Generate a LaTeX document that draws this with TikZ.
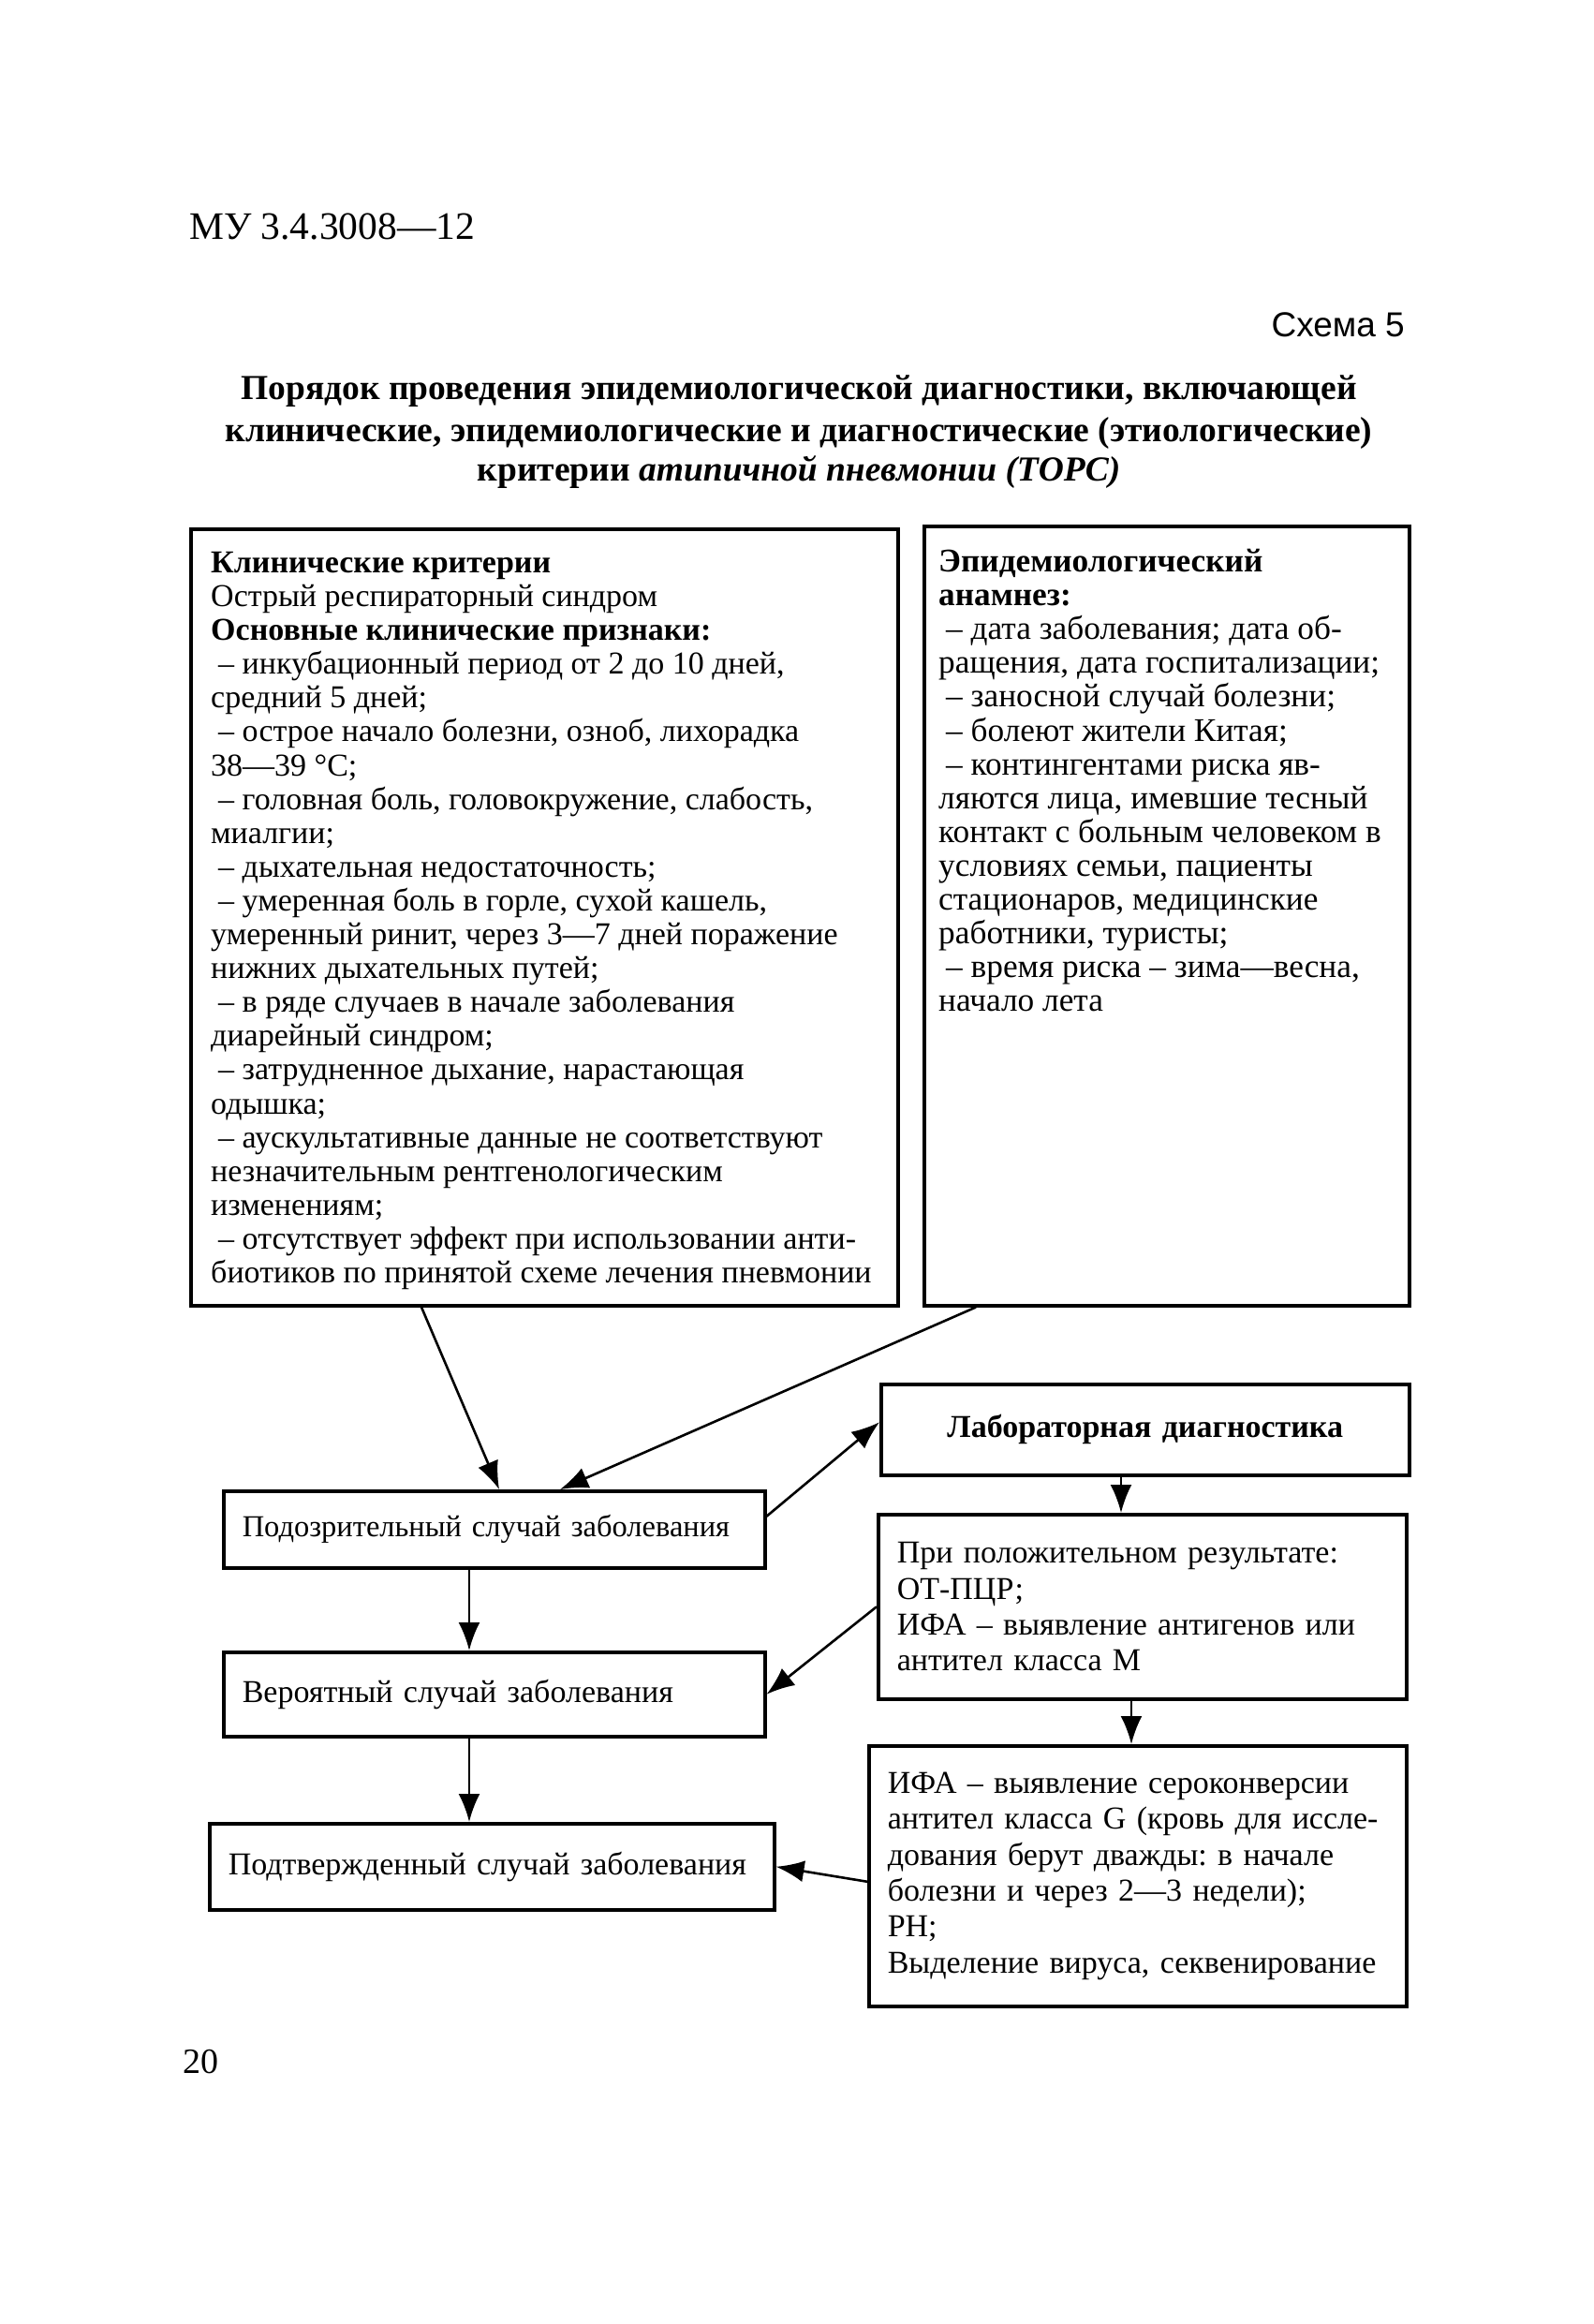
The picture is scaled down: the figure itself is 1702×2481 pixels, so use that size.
\documentclass[tikz,border=0pt]{standalone}
\usepackage{fontspec}
\setmainfont{Liberation Serif}
\newfontfamily\schemefont{Liberation Sans}
\usetikzlibrary{arrows.meta}
\frenchspacing

\newcommand{\itm}{\hspace*{8pt}– }

\begin{document}
\begin{tikzpicture}[x=1pt, y=-1pt]
  \tikzset{crit box/.style={draw, line width=3.5pt, anchor=north west, inner sep=0pt},
           crit text/.style={anchor=north west, inner sep=0pt, align=left,
                             font=\fontsize{34}{36.1}\selectfont},
           case box/.style={draw, line width=3.5pt, anchor=north west, inner xsep=20pt,
                            inner ysep=0pt, align=left, font=\fontsize{34}{38.4}\selectfont},
           flow/.style={-{Latex[length=30pt,width=23pt]}, line width=2.6pt}}
  \useasboundingbox (0,0) rectangle (1702,2481);

  \node[anchor=base west, inner sep=0pt, font=\fontsize{41.5}{44}\selectfont] (doc) at (202,255) {МУ 3.4.3008—12};
  \node[anchor=base east, inner sep=0pt, font=\schemefont\fontsize{37}{40}\selectfont] (scheme) at (1500,359) {Схема 5};
  \node[anchor=base, inner sep=0pt, font=\bfseries\fontsize{37.5}{40}\selectfont] (title1) at (853,426)
    {Порядок проведения эпидемиологической диагностики, включающей};
  \node[anchor=base, inner sep=0pt, font=\bfseries\fontsize{37.5}{40}\selectfont] (title2) at (853,471)
    {клинические, эпидемиологические и диагностические (этиологические)};
  \node[anchor=base, inner sep=0pt, font=\bfseries\fontsize{37.5}{40}\selectfont] (title3) at (853,513)
    {критерии \textit{атипичной пневмонии (ТОРС)}};

  \node[crit box, minimum width=755pt, minimum height=829pt] (clin) at (202,563) {};
  \node[crit text] (clintext) at (225,589)
    {\textbf{Клинические критерии}\\
     Острый респираторный синдром\\
     \textbf{Основные клинические признаки:}\\
     \itm инкубационный период от 2 до 10 дней,\\
     средний 5 дней;\\
     \itm острое начало болезни, озноб, лихорадка\\
     38—39 °С;\\
     \itm головная боль, головокружение, слабость,\\
     миалгии;\\
     \itm дыхательная недостаточность;\\
     \itm умеренная боль в горле, сухой кашель,\\
     умеренный ринит, через 3—7 дней поражение\\
     нижних дыхательных путей;\\
     \itm в ряде случаев в начале заболевания\\
     диарейный синдром;\\
     \itm затрудненное дыхание, нарастающая\\
     одышка;\\
     \itm аускультативные данные не соответствуют\\
     незначительным рентгенологическим\\
     изменениям;\\
     \itm отсутствует эффект при использовании анти-\\
     биотиков по принятой схеме лечения пневмонии};

  \node[crit box, minimum width=518pt, minimum height=832pt] (epid) at (985,560) {};
  \node[crit text, font=\fontsize{35.3}{36.1}\selectfont] (epidtext) at (1002,586)
    {\textbf{Эпидемиологический}\\
     \textbf{анамнез:}\\
     \itm дата заболевания; дата об-\\
     ращения, дата госпитализации;\\
     \itm заносной случай болезни;\\
     \itm болеют жители Китая;\\
     \itm контингентами риска яв-\\
     ляются лица, имевшие тесный\\
     контакт с больным человеком в\\
     условиях семьи, пациенты\\
     стационаров, медицинские\\
     работники, туристы;\\
     \itm время риска – зима—весна,\\
     начало лета};

  \node[case box, align=center, text width=524pt, minimum height=97pt, font=\bfseries\fontsize{34}{38}\selectfont] (lab) at (939,1476)
    {Лабораторная диагностика};
  \node[case box, text width=538pt, minimum height=82pt, font=\fontsize{32.5}{38}\selectfont] (susp) at (237,1590)
    {Подозрительный случай заболевания};
  \node[case box, text width=524pt, minimum height=197pt] (pos) at (936,1615)
    {При положительном результате:\\
     ОТ-ПЦР;\\
     ИФА – выявление антигенов или\\
     антител класса М};
  \node[case box, text width=538pt, minimum height=90pt] (prob) at (237,1762) {Вероятный случай заболевания};
  \node[case box, text width=534pt, minimum height=278pt] (ifa) at (926,1862)
    {ИФА – выявление сероконверсии\\
     антител класса G (кровь для иссле-\\
     дования берут дважды: в начале\\
     болезни и через 2—3 недели);\\
     РН;\\
     Выделение вируса, секвенирование};
  \node[case box, text width=563pt, minimum height=92pt] (conf) at (222,1945) {Подтвержденный случай заболевания};

  \node[anchor=base west, inner sep=0pt, font=\fontsize{38}{40}\selectfont] (page) at (195,2213) {20};

  \draw[flow] ([xshift=248pt]clin.south west) -- ([xshift=296pt]susp.north west);
  \draw[flow] ([xshift=57pt]epid.south west) -- ([xshift=361pt]susp.north west);
  \draw[flow] ([yshift=14pt]susp.east) -- ([yshift=8pt]lab.west);
  \draw[flow] ([xshift=258pt]lab.south west) -- ([xshift=261pt]pos.north west);
  \draw[flow] ([xshift=264pt]susp.south west) -- ([xshift=264pt]prob.north west);
  \draw[flow] (pos.west) -- (prob.east);
  \draw[flow] ([xshift=272pt]pos.south west) -- ([xshift=282pt]ifa.north west);
  \draw[flow] ([xshift=264pt]prob.south west) -- ([xshift=279pt]conf.north west);
  \draw[flow] ([yshift=-6pt]ifa.west) -- (conf.east);
\end{tikzpicture}
\end{document}
